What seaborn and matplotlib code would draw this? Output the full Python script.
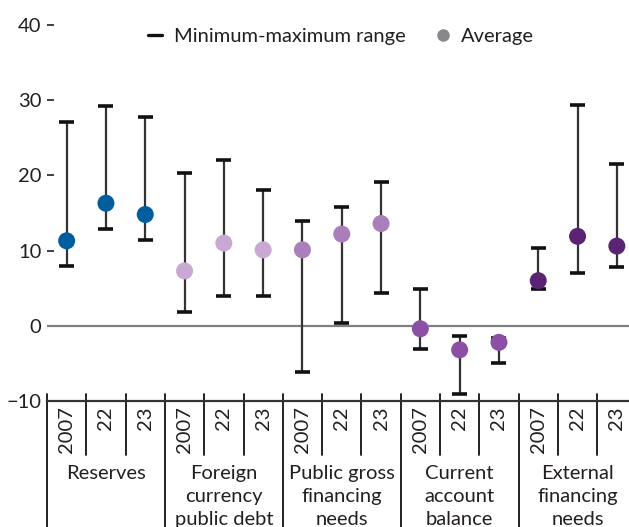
import numpy as np
import pandas as pd
import matplotlib
matplotlib.use("Agg")
import matplotlib.pyplot as plt
import matplotlib.transforms as mtransforms
from matplotlib.lines import Line2D
import seaborn as sns

# data
groups = ["Reserves", "Foreign\ncurrency\npublic debt", "Public gross\nfinancing\nneeds",
          "Current\naccount\nbalance", "External\nfinancing\nneeds"]
years = ["2007", "22", "23"]
avg_vals = [11.3, 16.3, 14.8, 7.3, 11.0, 10.1, 10.1, 12.2, 13.6, -0.4, -3.2, -2.2, 6.0, 11.9, 10.6]
min_vals = [7.9, 12.9, 11.4, 1.9, 4.0, 4.0, -6.2, 0.4, 4.4, -3.1, -9.1, -5.0, 4.9, 7.0, 7.8]
max_vals = [27.1, 29.2, 27.8, 20.3, 22.0, 18.0, 14.0, 15.8, 19.1, 4.9, -1.3, -1.6, 10.4, 29.3, 21.5]
group_colors = ["#005e9e", "#c9a8d4", "#a97ebb", "#8b50a6", "#5b2374"]

df = pd.DataFrame({
    "group": np.repeat(groups, len(years)),
    "year": years * len(groups),
    "avg": avg_vals,
    "lo": min_vals,
    "hi": max_vals,
})
df["pos"] = np.arange(len(df))

sns.set_style("white")
plt.rcParams["font.family"] = ["Lato", "DejaVu Sans"]
text_col = "#231f20"
fs = 14.5

fig = plt.figure(figsize=(6.29, 5.27), dpi=100)
ax = fig.add_axes([47 / 629, 1 - 401 / 527, 1 - 47 / 629, 376 / 527])

# zero line
ax.axhline(0, color="#808080", lw=1.6, zorder=1)

# min-max ranges
ax.vlines(df["pos"], df["lo"], df["hi"], color="#333333", lw=1.6, zorder=2)
ax.hlines(list(df["lo"]) + list(df["hi"]), list(df["pos"] - 0.19) * 2, list(df["pos"] + 0.19) * 2,
          color="#111111", lw=2.6, zorder=2)

# averages
sns.scatterplot(data=df, x="pos", y="avg", hue="group", palette=group_colors,
                s=150, edgecolor="none", legend=False, zorder=3, ax=ax)

ax.set_xlim(-0.5, -0.5 + 582 / 39.3)
ax.set_ylim(-10, 40)
ax.set_yticks([-10, 0, 10, 20, 30, 40])
ax.set_xticks([])
ax.set_xlabel("")
ax.set_ylabel("")
ax.tick_params(axis="y", direction="in", length=5, width=1.2, color=text_col, labelsize=fs,
               labelcolor=text_col, pad=4, left=True)
for s in ["top", "right", "left"]:
    ax.spines[s].set_visible(False)
ax.spines["bottom"].set_color("#333333")
ax.spines["bottom"].set_linewidth(1.6)

# category axis below the plot
trans = mtransforms.blended_transform_factory(ax.transData, ax.transAxes)
short_bottom = -54 / 376
long_bottom = -130 / 376
top_y = 7 / 376
for k in range(len(df) + 1):
    x = k - 0.5
    y0 = long_bottom if k % 3 == 0 else short_bottom
    ax.add_line(Line2D([x, x], [top_y, y0], transform=trans, color="#111111",
                       lw=1.3, clip_on=False))
for i, row in df.iterrows():
    ax.text(row["pos"], -5 / 376, row["year"], transform=trans, rotation=90,
            ha="center", va="top", fontsize=fs, color=text_col, clip_on=False)
for g, name in enumerate(groups):
    ax.text(g * 3 + 1, -64 / 376, name, transform=trans, ha="center", va="top",
            fontsize=fs, color=text_col, linespacing=1.42, clip_on=False)

# legend
handles = [
    Line2D([], [], color="#111111", lw=2.4, label="Minimum-maximum range"),
    Line2D([], [], color="#86888b", marker="o", ls="none", markersize=9,
           markeredgewidth=0, label="Average"),
]
fig.legend(handles=handles, loc="center", bbox_to_anchor=(341 / 629, 1 - 36 / 527),
           ncol=2, frameon=False, fontsize=fs, handlelength=0.7, handletextpad=0.55,
           columnspacing=1.5, labelcolor=text_col)

fig.savefig("out.png", dpi=100)
